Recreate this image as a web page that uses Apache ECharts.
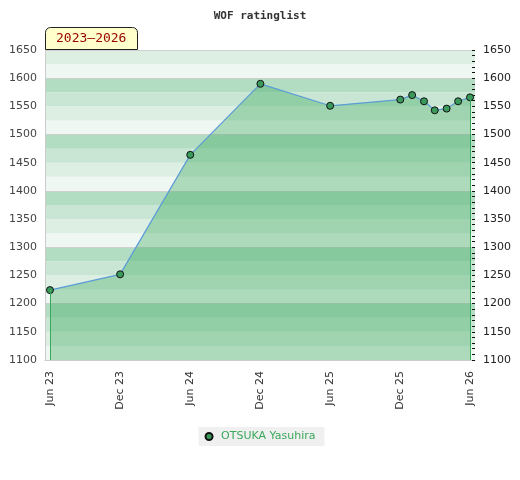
<!DOCTYPE html>
<html lang="en">
<head>
    <meta charset="UTF-8">
    <title>WOF ratinglist</title>
    <script src="https://cdn.jsdelivr.net/npm/echarts@6/dist/echarts.min.js"></script>
    <style>
        html, body { margin: 0; padding: 0; background: #fff; }
        #main { width: 520px; height: 480px; }
    </style>
</head>
<body>
    <div id="main"></div>
    <script type="text/javascript">
        // rating history
        const playerName = 'OTSUKA Yasuhira';
        const dates = ['2023-06-01', '2023-12-01', '2024-06-01', '2024-12-01', '2025-06-01', '2025-12-01',
            '2026-01-01', '2026-02-01', '2026-03-01', '2026-04-01', '2026-05-01', '2026-06-01'];
        const ratings = [1224, 1252, 1464, 1590, 1551, 1562, 1570, 1559, 1543, 1546, 1559, 1566];

        // x axis ticks
        const tickDates = ['2023-06-01', '2023-12-01', '2024-06-01', '2024-12-01', '2025-06-01', '2025-12-01', '2026-06-01'];
        const tickLabels = ['Jun 23', 'Dec 23', 'Jun 24', 'Dec 24', 'Jun 25', 'Dec 25', 'Jun 26'];

        const yMin = 1100, yMax = 1650;
        const bandColors = ['#eef7f1', '#dcefe2', '#c8e6d3', '#b3ddc3'];

        const toTime = s => echarts.time.parse(s).getTime();
        const tickValues = tickDates.map(toTime);
        const xs = dates.map(toTime);
        const plain = v => String(v);

        const chart = echarts.init(document.getElementById('main'));
        const option = {
            animation: false,
            title: [{
                text: 'WOF ratinglist',
                left: 'center',
                top: 6,
                textStyle: { fontFamily: 'DejaVu Sans Mono', fontSize: 11, fontWeight: 'bold', color: '#333' }
            }, {
                text: '2023–2026',
                left: 45,
                top: 27,
                padding: [5, 11, 4, 11],
                backgroundColor: '#ffffcc',
                borderColor: '#222',
                borderWidth: 1,
                borderRadius: [5, 5, 0, 0],
                textStyle: { fontFamily: 'DejaVu Sans Mono', fontSize: 13, fontWeight: 'normal', color: '#990000', lineHeight: 14 }
            }],
            legend: {
                bottom: 34,
                left: 'center',
                backgroundColor: '#f0f0f0',
                padding: [4, 9, 4, 6],
                itemWidth: 14,
                itemHeight: 7,
                icon: 'circle',
                textStyle: { fontFamily: 'DejaVu Sans', fontSize: 11, color: '#3aa85a' },
                data: [playerName]
            },
            grid: { left: 45, right: 45, top: 50, bottom: 120 },
            xAxis: {
                type: 'value',
                min: toTime('2023-05-19'),
                max: toTime('2026-06-14'),
                axisLine: { show: true, onZero: false, lineStyle: { color: '#ccc' } },
                axisTick: { show: false },
                splitLine: { show: false },
                axisLabel: {
                    customValues: tickValues,
                    rotate: 90,
                    margin: 11,
                    fontFamily: 'DejaVu Sans',
                    fontSize: 11,
                    color: '#333',
                    formatter: function (value) {
                        const i = tickValues.indexOf(value);
                        return i >= 0 ? tickLabels[i] : '';
                    }
                }
            },
            yAxis: [{
                // bands every 25
                type: 'value', min: yMin, max: yMax, interval: 25, position: 'left',
                axisLine: { show: false }, axisTick: { show: false }, axisLabel: { show: false },
                splitLine: { show: false },
                splitArea: { show: true, areaStyle: { color: bandColors } }
            }, {
                // grid lines every 100
                type: 'value', min: yMin, max: yMax, interval: 100, position: 'left',
                axisLine: { show: false }, axisTick: { show: false }, axisLabel: { show: false },
                splitLine: { show: true, lineStyle: { color: '#cfcfcf', width: 1 } }
            }, {
                type: 'value', min: yMin, max: yMax, interval: 50, position: 'left',
                axisLine: { show: true, lineStyle: { color: '#ccc' } },
                axisTick: { show: false },
                splitLine: { show: false },
                axisLabel: { margin: 8, fontFamily: 'DejaVu Sans', fontSize: 11, color: '#444', formatter: plain }
            }, {
                type: 'value', min: yMin, max: yMax, interval: 50, position: 'right',
                axisLine: { show: false },
                axisTick: { show: true, inside: true, length: 3, lineStyle: { color: '#111' } },
                minorTick: { show: true, splitNumber: 5, length: 3, lineStyle: { color: '#111' } },
                splitLine: { show: false },
                axisLabel: { margin: 8, fontFamily: 'DejaVu Sans', fontSize: 11, color: '#222', formatter: plain }
            }],
            series: [{
                name: playerName,
                type: 'line',
                yAxisIndex: 2,
                z: 3,
                data: xs.map((x, i) => [x, ratings[i]]),
                symbol: 'circle',
                symbolSize: 7,
                itemStyle: { color: '#3a9a5c', borderColor: '#111', borderWidth: 1 },
                lineStyle: { color: '#5b9bd8', width: 1.2 },
                areaStyle: { color: 'rgba(50,165,85,0.5)', origin: 'start' },
                markLine: {
                    silent: true,
                    symbol: 'none',
                    label: { show: false },
                    lineStyle: { color: '#3aa85a', width: 1, type: 'solid' },
                    data: [
                        [{ coord: [xs[0], ratings[0]] }, { coord: [xs[0], yMin] }],
                        [{ coord: [xs[xs.length - 1], ratings[ratings.length - 1]] }, { coord: [xs[xs.length - 1], yMin] }]
                    ]
                }
            }]
        };
        chart.setOption(option);
    </script>
</body>
</html>
